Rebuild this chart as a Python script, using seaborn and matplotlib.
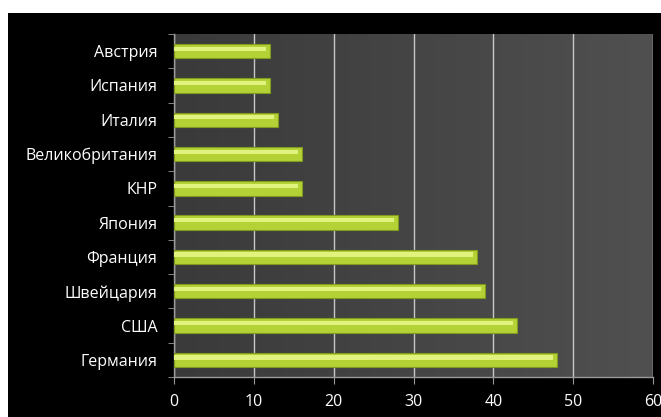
import numpy as np
import pandas as pd
import seaborn as sns
import matplotlib.pyplot as plt
from matplotlib.patches import Rectangle
from matplotlib.colors import LinearSegmentedColormap
from matplotlib.ticker import FixedLocator

# data (top to bottom)
countries = ['Австрия', 'Испания', 'Италия', 'Великобритания', 'КНР',
             'Япония', 'Франция', 'Швейцария', 'США', 'Германия']
values = [12, 12, 13, 16, 16, 28, 38, 39, 43, 48]
xticks = [0, 10, 20, 30, 40, 50, 60]

df = pd.DataFrame({'country': countries, 'value': values})

sns.set_style('dark')
plt.rcParams['font.family'] = ['Open Sans', 'DejaVu Sans']

fig = plt.figure(figsize=(6.61, 4.17), dpi=100, facecolor='white')
# black panel behind the chart
fig.patches.append(Rectangle((8 / 661, 0), 1, 1 - 13 / 417, transform=fig.transFigure,
                             facecolor='black', edgecolor='none', zorder=-10))

ax = fig.add_axes([174 / 661, 40 / 417, (653 - 174) / 661, (377 - 34) / 417])
ax.set_facecolor('#484848')

# subtle gradient in plot area
grad = np.linspace(0, 1, 256).reshape(1, -1)
ax.imshow(grad, extent=[0, 60, 9.5, -0.5], aspect='auto',
          cmap=LinearSegmentedColormap.from_list('g', ['#3a3a3a', '#505050']), zorder=0)

sns.barplot(data=df, y='country', x='value', order=countries, orient='h',
            color='#b4d236', width=0.42, saturation=1, edgecolor='#7f9a1e', linewidth=0.8,
            ax=ax, zorder=3)
# highlight stripe on bars
sns.barplot(data=df, y='country', x='value', order=countries, orient='h',
            color='#e2f27e', width=0.12, saturation=1, linewidth=0, ax=ax, zorder=4)
for p in ax.patches[len(countries):]:
    p.set_y(p.get_y() - 0.07)
    p.set_width(p.get_width() - 0.5)

ax.set_xlim(0, 60)
ax.set_ylim(9.5, -0.5)
ax.set_xticks(xticks)
ax.xaxis.grid(True, color='#c8c8c8', linewidth=1)
ax.yaxis.grid(False)
ax.set_axisbelow(True)
ax.set_xlabel('')
ax.set_ylabel('')

ax.yaxis.set_minor_locator(FixedLocator(np.arange(-0.5, 10, 1)))
ax.tick_params(axis='y', which='major', length=0, labelsize=11.5, labelcolor='white', pad=12)
ax.tick_params(axis='y', which='minor', length=4, color='#9a9a9a', left=True)
ax.tick_params(axis='x', which='major', length=5, color='#9a9a9a', labelsize=11.5,
               labelcolor='white', bottom=True, pad=7)

for s in ['top', 'right']:
    ax.spines[s].set_visible(False)
for s in ['left', 'bottom']:
    ax.spines[s].set_visible(True)
    ax.spines[s].set_color('#9a9a9a')
    ax.spines[s].set_linewidth(1)

fig.savefig('out.png', dpi=100, facecolor='white')
